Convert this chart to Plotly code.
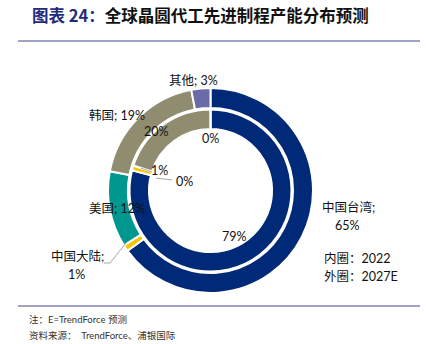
import plotly.graph_objects as go

categories = ["中国台湾", "中国大陆", "美国", "韩国", "其他"]
outer_2027E = [65, 1, 12, 19, 3]
inner_2022 = [79, 1, 0, 20, 0]
colors = ["#002A78", "#F5C400", "#00978F", "#8F8C6F", "#6B6BA6"]

W, H = 426, 344
cx, cy = 210.5, 190.5
R_out, R_in = 102.5, 81.0


def dom(r):
    return dict(x=[(cx - r) / W, (cx + r) / W], y=[1 - (cy + r) / H, 1 - (cy - r) / H])


fig = go.Figure()
fig.add_trace(go.Pie(
    labels=categories, values=outer_2027E, sort=False, direction="clockwise",
    rotation=0, hole=0.805, domain=dom(R_out), textinfo="none",
    marker=dict(colors=colors, line=dict(color="white", width=2)),
    showlegend=False, hoverinfo="label+percent"))
fig.add_trace(go.Pie(
    labels=categories, values=inner_2022, sort=False, direction="clockwise",
    rotation=0, hole=0.76, domain=dom(R_in), textinfo="none",
    marker=dict(colors=colors, line=dict(color="white", width=2)),
    showlegend=False, hoverinfo="label+percent"))

FONT = "Lato, 'Noto Sans CJK SC', sans-serif"
SERIF = "Lato, 'Noto Serif CJK SC', 'Noto Sans CJK SC', serif"


def ann(x, y, text, size=12.5, color="#111111", xanchor="center", family=FONT):
    fig.add_annotation(x=x / W, y=1 - y / H, xref="paper", yref="paper", text=text,
                       showarrow=False, xanchor=xanchor, yanchor="middle",
                       font=dict(size=size, color=color, family=family))


# outer ring labels (2027E)
ann(193, 81, f"{categories[4]}; {outer_2027E[4]}%")
ann(117, 116, f"{categories[3]}; {outer_2027E[3]}%")
ann(117, 208, f"{categories[2]}; {outer_2027E[2]}%")
ann(348, 207, f"{categories[0]};")
ann(347, 226, f"{outer_2027E[0]}%")
ann(77, 256, f"{categories[1]};")
ann(76, 274, f"{outer_2027E[1]}%")

# inner ring labels (2022)
ann(234, 236, f"{inner_2022[0]}%")
ann(156, 131, f"{inner_2022[3]}%")
ann(210, 138, f"{inner_2022[4]}%")
ann(159, 170, f"{inner_2022[1]}%")
ann(184, 181, f"{inner_2022[2]}%")

ann(322, 258, "内圈：2022", xanchor="left")
ann(322, 276, "外圈：2027E", xanchor="left")

# title
fig.add_annotation(x=30 / W, y=1 - 15 / H, xref="paper", yref="paper",
                   text="<b><span style='color:#1F2A7A'>图表 24：</span>全球晶圆代工先进制程产能分布预测</b>",
                   showarrow=False, xanchor="left", yanchor="middle",
                   font=dict(size=16.5, color="#111111", family="'Noto Sans CJK SC', sans-serif"))

# footer
ann(27, 319, "注：E=TrendForce 预测", size=9.5, color="#333333", xanchor="left")
ann(27, 335, "资料来源：  TrendForce、浦银国际", size=9.5, color="#333333", xanchor="left")

shapes = []
for y in (41, 306):
    shapes.append(dict(type="line", xref="paper", yref="paper", x0=18 / W, x1=420 / W,
                       y0=1 - y / H, y1=1 - y / H, line=dict(color="#8383B0", width=1.3)))
for (x0, y0, x1, y1) in [(104, 263, 110, 263), (110, 263, 126, 243),
                         (141, 168, 152, 172), (156, 178, 172, 180)]:
    shapes.append(dict(type="line", xref="paper", yref="paper", x0=x0 / W, x1=x1 / W,
                       y0=1 - y0 / H, y1=1 - y1 / H, line=dict(color="#A6A6A6", width=1)))

fig.update_layout(width=W, height=H, margin=dict(l=0, r=0, t=0, b=0),
                  paper_bgcolor="white", plot_bgcolor="white", shapes=shapes)

fig.write_html("out.html")
